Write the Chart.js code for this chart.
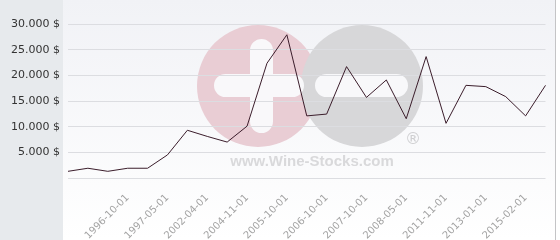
<!DOCTYPE html>
<html>
<head>
<meta charset="utf-8">
<script src="https://cdn.jsdelivr.net/npm/chart.js@4/dist/chart.umd.min.js"></script>
<style>
  html, body { margin: 0; padding: 0; background: #fff; }
  canvas { display: block; }
</style>
</head>
<body>
<canvas id="chart" width="560" height="240"></canvas>
<script>
// dates on the x axis (only every other one is readable in the picture)
const dates = [
  "", "", "", "1996-10-01", "", "1997-05-01", "", "2002-04-01", "", "2004-11-01",
  "", "2005-10-01", "", "2006-10-01", "", "2007-10-01", "", "2008-05-01", "",
  "2011-11-01", "", "2013-01-01", "", "2015-02-01", ""
];
// price in $
const prices = [
  1300, 1900, 1300, 1900, 1900, 4500, 9300, 8100, 7000, 10100,
  22350, 27900, 12100, 12450, 21700, 15700, 19100, 11550, 23650,
  10650, 18050, 17800, 15850, 12100, 18050
];
const yTicks = [0, 5000, 10000, 15000, 20000, 25000, 30000];

const fmt = (v) => String(v).replace(/\B(?=(\d{3})+(?!\d))/g, ".") + " $";

// background panels + wine-stocks watermark, drawn under grid and line
const backdrop = {
  id: "backdrop",
  beforeDraw(chart) {
    const ctx = chart.ctx;
    ctx.save();
    ctx.fillStyle = "#e7eaed";
    ctx.fillRect(0, 0, 63, 240);
    const g = ctx.createLinearGradient(0, 0, 0, 240);
    g.addColorStop(0, "#f1f2f6");
    g.addColorStop(1, "#ffffff");
    ctx.fillStyle = g;
    ctx.fillRect(63, 0, 492, 240);

    ctx.fillStyle = "#e9cdd4";
    ctx.beginPath();
    ctx.arc(258, 86, 61, 0, Math.PI * 2);
    ctx.fill();
    ctx.fillStyle = "#d7d7d9";
    ctx.beginPath();
    ctx.arc(362, 86, 61, 0, Math.PI * 2);
    ctx.fill();

    ctx.fillStyle = "rgba(250,250,252,0.95)";
    ctx.beginPath();
    ctx.roundRect(250, 39, 23, 94, 11.5);
    ctx.roundRect(214, 74, 90, 23, 11.5);
    ctx.roundRect(315, 74, 93, 23, 11.5);
    ctx.fill();

    ctx.fillStyle = "#d9d9db";
    ctx.font = "bold 15px 'Liberation Sans', Arial, sans-serif";
    ctx.textAlign = "center";
    ctx.textBaseline = "alphabetic";
    ctx.fillText("www.Wine-Stocks.com", 312, 166);
    ctx.fillStyle = "#cfcfd1";
    ctx.font = "16px 'DejaVu Sans', sans-serif";
    ctx.textBaseline = "middle";
    ctx.fillText("\u00AE", 413, 140);

    ctx.strokeStyle = "#c4c4c6";
    ctx.lineWidth = 1;
    ctx.beginPath();
    ctx.moveTo(555.5, 0);
    ctx.lineTo(555.5, 240);
    ctx.stroke();
    ctx.restore();
  }
};

new Chart(document.getElementById("chart"), {
  type: "line",
  data: {
    labels: dates,
    datasets: [{
      label: "Price",
      data: prices,
      borderColor: "#3b1d2b",
      borderWidth: 1,
      pointRadius: 0,
      tension: 0,
      fill: false
    }]
  },
  options: {
    responsive: false,
    animation: false,
    layout: { padding: { top: 24, right: 5, left: 0, bottom: 0 } },
    plugins: { legend: { display: false }, tooltip: { enabled: false } },
    scales: {
      x: {
        offset: false,
        grid: { display: false },
        border: { display: false },
        afterFit: (s) => { s.height = 62; },
        ticks: {
          autoSkip: false,
          maxRotation: 45,
          minRotation: 45,
          padding: 6,
          color: "#a3a3a3",
          font: { family: "'DejaVu Sans'", size: 10 }
        }
      },
      y: {
        min: 0,
        max: 30000,
        afterFit: (s) => { s.width = 68; },
        afterBuildTicks: (s) => { s.ticks = yTicks.map((v) => ({ value: v })); },
        grid: { color: "#dcdde1", drawTicks: false },
        border: { display: false },
        ticks: {
          padding: 8,
          color: "#333333",
          font: { family: "'DejaVu Sans'", size: 11 },
          callback: (v) => (v === 0 ? "" : fmt(v))
        }
      }
    }
  },
  plugins: [backdrop]
});
</script>
</body>
</html>
